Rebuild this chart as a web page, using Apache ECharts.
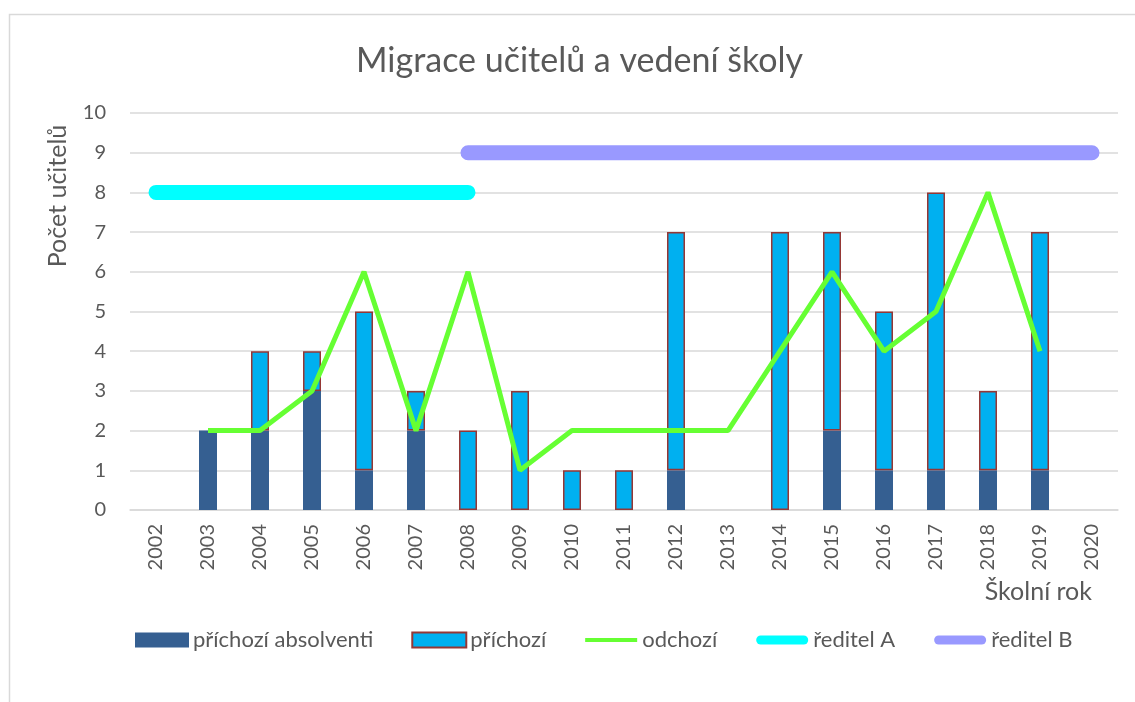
<!DOCTYPE html>
<html>
<head>
<meta charset="utf-8">
<script src="https://cdn.jsdelivr.net/npm/echarts@6/dist/echarts.min.js"></script>
<style>html,body{margin:0;padding:0;background:#fff}#c{width:1135px;height:702px}</style>
</head>
<body>
<div id="c"></div>
<script>
const years = ['2002','2003','2004','2005','2006','2007','2008','2009','2010','2011','2012','2013','2014','2015','2016','2017','2018','2019','2020'];
const absolventi = [0,2,2,3,1,2,0,0,0,0,1,0,0,2,1,1,1,1,0];
const prichozi   = [0,0,2,1,4,1,2,3,1,1,6,0,7,5,4,7,2,6,0];
const odchozi    = [null,2,2,3,6,2,6,1,2,2,2,2,4,6,4,5,8,4,null];
const reditelA   = [8,8,8,8,8,8,8,null,null,null,null,null,null,null,null,null,null,null,null];
const reditelB   = [null,null,null,null,null,null,9,9,9,9,9,9,9,9,9,9,9,9,9];
const yTicks = [0,10,1];

const noZero = a => a.map(v => v === 0 ? '-' : v);
const FONT = 'Lato';
const TXT = '#595959';
const LINE_ICON = 'path://M0,0L0,0M54,15L54,15M1,5.5L53,5.5L53,9.5L1,9.5Z';
const ROUND_ICON = 'path://M0,0L0,0M54,15L54,15M5.5,3L48.5,3A4.5,4.5 0 0 1 48.5,12L5.5,12A4.5,4.5 0 0 1 5.5,3Z';
const chart = echarts.init(document.getElementById('c'), null, {renderer:'canvas'});
chart.setOption({
  animation:false,
  textStyle:{fontFamily:FONT},
  title:{text:'Migrace učitelů a vedení školy', left:351, top:39,
    textStyle:{fontFamily:FONT, fontSize:34, fontWeight:'normal', color:TXT}},
  grid:{left:130, right:17, top:113, bottom:192},
  legend:{top:624, left:130, itemWidth:54, itemHeight:15, itemGap:38,
    textStyle:{fontFamily:FONT, fontSize:22, color:TXT, padding:[0,0,0,-1]},
    data:[
      {name:'příchozí absolventi', icon:'rect'},
      {name:'příchozí', icon:'rect'},
      {name:'odchozí', icon:LINE_ICON, itemStyle:{borderWidth:0}},
      {name:'ředitel A', icon:ROUND_ICON, itemStyle:{borderWidth:0}},
      {name:'ředitel B', icon:ROUND_ICON, itemStyle:{borderWidth:0}}
    ]},
  xAxis:{type:'category', data:years, boundaryGap:true,
    axisLine:{lineStyle:{color:'#d9d9d9', width:1.5}},
    axisTick:{show:false},
    axisLabel:{rotate:90, fontSize:20, color:TXT, margin:14, fontFamily:FONT}},
  yAxis:{type:'value', min:yTicks[0], max:yTicks[1], interval:yTicks[2],
    axisLine:{show:false}, axisTick:{show:false},
    splitLine:{lineStyle:{color:'#d9d9d9', width:1.5}},
    axisLabel:{fontSize:20, color:TXT, margin:24, fontFamily:FONT}},
  series:[
    {name:'příchozí absolventi', type:'bar', stack:'a', data:noZero(absolventi), barWidth:18,
      itemStyle:{color:'#355F91'}},
    {name:'příchozí', type:'bar', stack:'a', data:noZero(prichozi), barWidth:18,
      itemStyle:{color:'#00B0F0', borderColor:'#953735', borderWidth:1.5}},
    {name:'odchozí', type:'line', data:odchozi, symbol:'none', connectNulls:false,
      lineStyle:{color:'#66FF33', width:5}, itemStyle:{color:'#66FF33'}},
    {name:'ředitel A', type:'line', data:reditelA, symbol:'none',
      lineStyle:{color:'#00FFFF', width:15, cap:'round'}, itemStyle:{color:'#00FFFF'}},
    {name:'ředitel B', type:'line', data:reditelB, symbol:'none',
      lineStyle:{color:'#9999FF', width:15, cap:'round'}, itemStyle:{color:'#9999FF'}}
  ],
  graphic:[
    {type:'rect', shape:{x:9.5, y:14.5, width:1200, height:800}, silent:true, z:-10,
      style:{fill:null, stroke:'#d9d9d9', lineWidth:1.5}},
    {type:'text', x:58, y:196, rotation:Math.PI/2, style:{text:'Počet učitelů', font:'25px '+FONT, fill:TXT, align:'center', verticalAlign:'middle'}},
    {type:'text', x:1092, y:592, style:{text:'Školní rok', font:'25px '+FONT, fill:TXT, align:'right', verticalAlign:'middle'}}
  ]
});
</script>
</body>
</html>
